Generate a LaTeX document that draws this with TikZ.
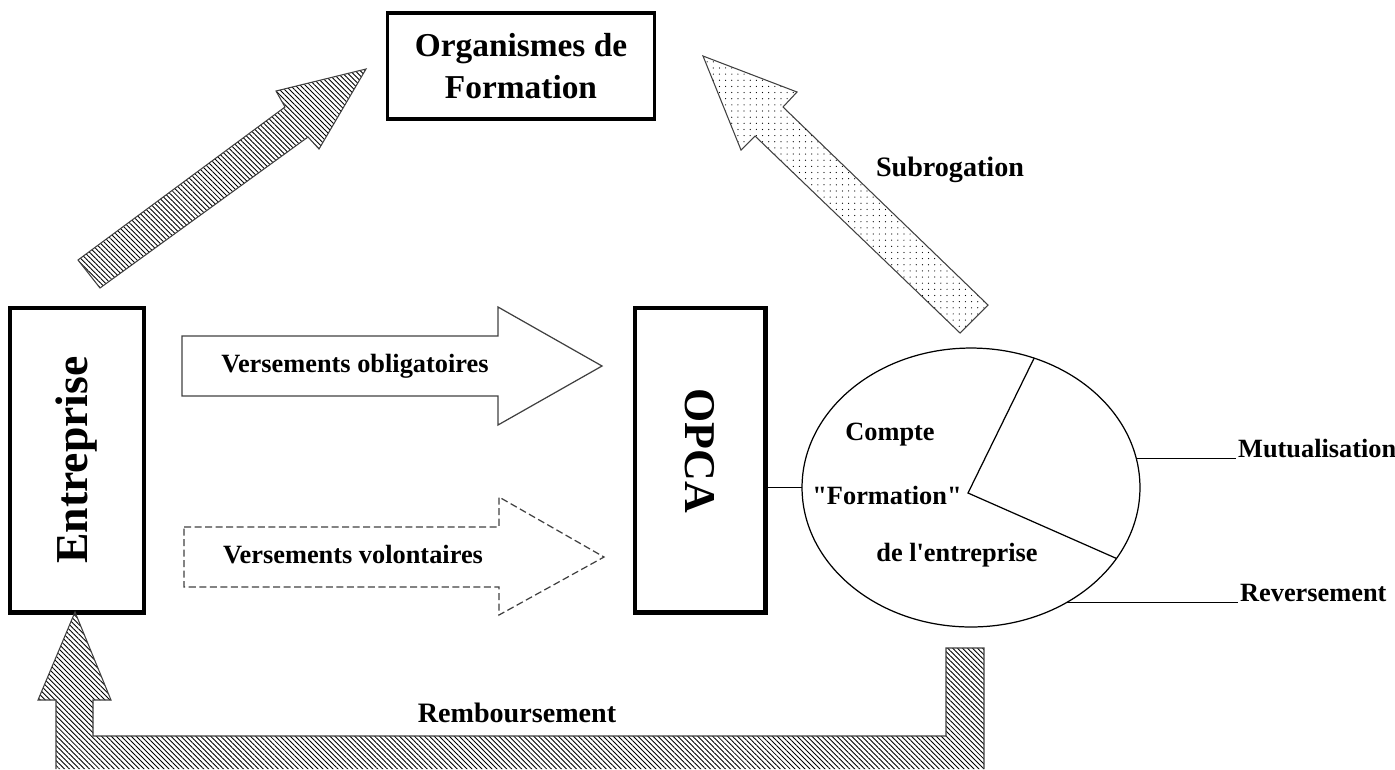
\documentclass[tikz,border=0pt]{standalone}
\usepackage{fontspec}
\setmainfont{Liberation Serif}
\usetikzlibrary{patterns.meta,shapes.geometric}
\begin{document}
\begin{tikzpicture}[x=0.02cm,y=-0.02cm,
  lbl/.style={font=\fontsize{15}{18}\selectfont\bfseries, inner sep=1pt},
  biglbl/.style={font=\fontsize{16}{19}\selectfont\bfseries, inner sep=1pt},
  thickbox/.style={draw, line width=2.3pt, inner sep=0pt},
  hatch/.style={draw=black!75, line width=0.6pt, pattern={Lines[angle=-45,distance=2pt,line width=0.5pt]}},
  dotfill/.style={draw=black!75, line width=0.6pt, pattern={Dots[distance=3.5pt,radius=0.35pt]}},
  blockarrow/.style={draw=black!75, line width=0.7pt},
  thinline/.style={line width=0.7pt}]
\useasboundingbox (0,0) rectangle (1395,769);

% boxes
\node[thickbox, line width=1.8pt, minimum width=5.34cm, minimum height=2.12cm, align=center,
      font=\fontsize{19}{24}\selectfont\bfseries] (org) at (521,66) {Organismes de\\Formation};
\node[thickbox, rotate=90, minimum width=6.1cm, minimum height=2.68cm,
      font=\fontsize{26}{30}\selectfont\bfseries] (ent) at (77,460) {Entreprise};
\node[thickbox, rotate=-90, minimum width=6.1cm, minimum height=2.62cm] (opca) at (700,460) {};
\node[rotate=-90, font=\fontsize{25}{30}\selectfont\bfseries, inner sep=0pt] (opcatxt) at (700,451) {OPCA};

% ellipse (compte)
\node[draw, ellipse, thinline, inner sep=0pt, outer sep=0pt, minimum width=6.76cm, minimum height=5.58cm] (ell) at (971,487.5) {};
\coordinate (pc) at (968,493);
\draw[thinline] (ell.64) -- (pc) -- (ell.-26);

% block arrows
\draw[hatch] (78,260) -- (285,107) -- (276,91) -- (366,69) -- (319,149) -- (308,137) -- (100,288) -- cycle;
\draw[dotfill] (988,305) -- (783,107) -- (797,92) -- (703,56) -- (741,150) -- (755,136) -- (960,333) -- cycle;
\draw[blockarrow] (182,336) -- (498,336) -- (498,307) -- (602,366) -- (498,425) -- (498,396) -- (182,396) -- cycle;
\draw[blockarrow, dash pattern=on 4pt off 2pt] (184,527) -- (499,527) -- (499,497) -- (604,557) -- (499,615) -- (499,587) -- (184,587) -- cycle;
\draw[hatch] (56,769) -- (56,700) -- (38,700) -- (75,612) -- (111,700) -- (93,700) -- (93,736) -- (946,736) -- (946,648) -- (984,648) -- (984,769);

% labels
\node[lbl] (obl) at (355,366) {Versements obligatoires};
\node[lbl] (vol) at (353,555) {Versements volontaires};
\node[biglbl] (sub) at (950,170) {Subrogation};
\node[biglbl] (remb) at (517,713) {Remboursement};
\node[lbl] (cpt) at (890,435) {Compte};
\node[lbl] (fmt) at (887,495) {\textquotedbl Formation\textquotedbl};
\node[lbl] (del) at (957,555) {de l\textquotesingle entreprise};
\node[lbl, anchor=west] (mut) at (1236,449) {Mutualisation};
\node[lbl, anchor=west] (rev) at (1238,593) {Reversement};

% connectors
\draw[thinline] (ell.west -| opca.north) -- (ell.west);
\draw[thinline] (ell.10) -- (ell.10 -| mut.west);
\draw[thinline] (ell.-50) -- (ell.-50 -| rev.west);
\end{tikzpicture}
\end{document}
